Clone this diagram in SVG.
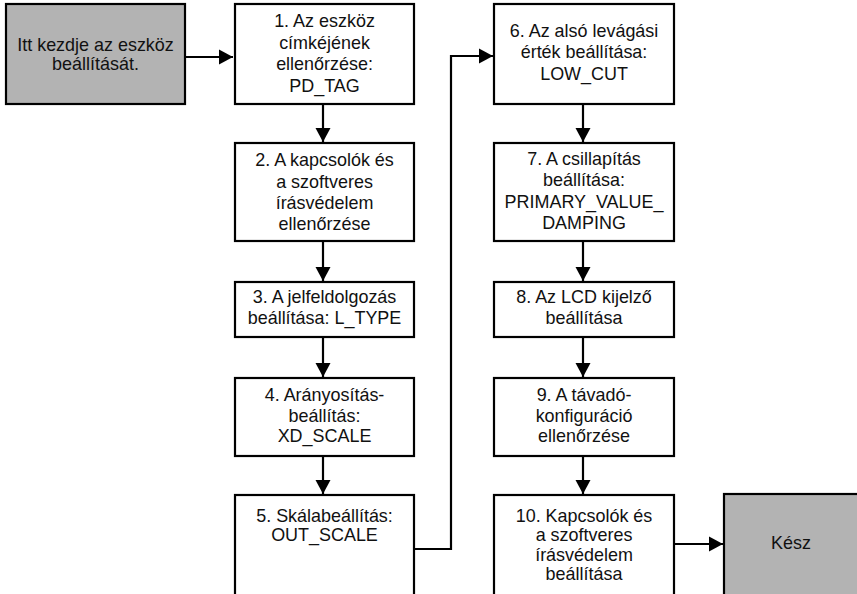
<svg xmlns="http://www.w3.org/2000/svg" width="857" height="594" viewBox="0 0 857 594">
<defs>
<style>
.box{fill:#ffffff;stroke:#000;stroke-width:2.2}
.gray{fill:#b3b3b3;stroke:#000;stroke-width:2.2}
text{font-family:"Liberation Sans",Arial,sans-serif;font-size:19px;fill:#111;text-anchor:middle}
.con{fill:none;stroke:#000;stroke-width:2.2;marker-end:url(#ah)}
</style>
<marker id="ah" markerUnits="userSpaceOnUse" markerWidth="14" markerHeight="16" refX="14" refY="8" orient="auto">
<path d="M0,0.5 L14,8 L0,15.5 z" fill="#000"/>
</marker>
</defs>
<rect width="857" height="594" fill="#fff"/>
<g id="start">
<rect class="gray" x="6" y="4" width="179" height="100"/>
<g transform="translate(95.5,0) scale(0.945,1)">
<text x="0" y="51.5">Itt kezdje az eszköz</text>
<text x="0" y="70.5">beállítását.</text>
</g>
</g>
<g id="n1">
<rect class="box" x="235" y="4" width="179" height="100"/>
<g transform="translate(324.5,0) scale(0.945,1)">
<text x="0" y="27.5">1. Az eszköz</text>
<text x="0" y="49">címkéjének</text>
<text x="0" y="70.5">ellenőrzése:</text>
<text x="0" y="92">PD_TAG</text>
</g>
</g>
<g id="n2">
<rect class="box" x="235" y="143" width="179" height="98"/>
<g transform="translate(324.5,0) scale(0.945,1)">
<text x="0" y="166.5">2. A kapcsolók és</text>
<text x="0" y="188">a szoftveres</text>
<text x="0" y="209">írásvédelem</text>
<text x="0" y="230">ellenőrzése</text>
</g>
</g>
<g id="n3">
<rect class="box" x="235" y="282" width="179" height="55"/>
<g transform="translate(324.5,0) scale(0.945,1)">
<text x="0" y="303.5">3. A jelfeldolgozás</text>
<text x="0" y="324.5">beállítása: L_TYPE</text>
</g>
</g>
<g id="n4">
<rect class="box" x="235" y="378" width="179" height="78"/>
<g transform="translate(324.5,0) scale(0.945,1)">
<text x="0" y="401.5">4. Arányosítás-</text>
<text x="0" y="422">beállítás:</text>
<text x="0" y="442">XD_SCALE</text>
</g>
</g>
<g id="n5">
<rect class="box" x="235" y="495" width="179" height="110"/>
<g transform="translate(324.5,0) scale(0.945,1)">
<text x="0" y="522">5. Skálabeállítás:</text>
<text x="0" y="541.5">OUT_SCALE</text>
</g>
</g>
<g id="n6">
<rect class="box" x="494" y="4" width="180" height="100"/>
<g transform="translate(584,0) scale(0.945,1)">
<text x="0" y="37.5">6. Az alsó levágási</text>
<text x="0" y="58.5">érték beállítása:</text>
<text x="0" y="80">LOW_CUT</text>
</g>
</g>
<g id="n7">
<rect class="box" x="494" y="143" width="180" height="98"/>
<g transform="translate(584,0) scale(0.945,1)">
<text x="0" y="165">7. A csillapítás</text>
<text x="0" y="186">beállítása:</text>
<text x="0" y="208">PRIMARY_VALUE_</text>
<text x="0" y="229.5">DAMPING</text>
</g>
</g>
<g id="n8">
<rect class="box" x="494" y="282" width="180" height="55"/>
<g transform="translate(584,0) scale(0.945,1)">
<text x="0" y="303.5">8. Az LCD kijelző</text>
<text x="0" y="324.5">beállítása</text>
</g>
</g>
<g id="n9">
<rect class="box" x="494" y="378" width="180" height="78"/>
<g transform="translate(584,0) scale(0.945,1)">
<text x="0" y="401.5">9. A távadó-</text>
<text x="0" y="422">konfiguráció</text>
<text x="0" y="442">ellenőrzése</text>
</g>
</g>
<g id="n10">
<rect class="box" x="494" y="495" width="180" height="110"/>
<g transform="translate(584,0) scale(0.945,1)">
<text x="0" y="522">10. Kapcsolók és</text>
<text x="0" y="541.5">a szoftveres</text>
<text x="0" y="561">írásvédelem</text>
<text x="0" y="580.5">beállítása</text>
</g>
</g>
<g id="done">
<rect class="gray" x="724" y="494" width="200" height="200"/>
<g transform="translate(791,0) scale(0.945,1)">
<text x="0" y="549.5">Kész</text>
</g>
</g>
<g id="connectors">
<path class="con" d="M185,57 H233"/>
<path class="con" d="M323,105 V142"/>
<path class="con" d="M323,242 V281"/>
<path class="con" d="M323,338 V377"/>
<path class="con" d="M323,457 V494"/>
<path class="con" d="M415,549 H451 V56 H493"/>
<path class="con" d="M583,105 V142"/>
<path class="con" d="M583,242 V281"/>
<path class="con" d="M583,338 V377"/>
<path class="con" d="M583,457 V494"/>
<path class="con" d="M675,544 H723"/>
</g>
</svg>
